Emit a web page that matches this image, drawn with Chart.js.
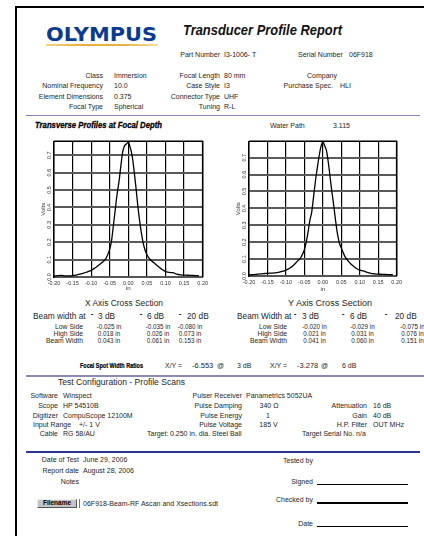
<!DOCTYPE html>
<html><head><meta charset="utf-8">
<script src="https://cdn.jsdelivr.net/npm/chart.js@4.4.1/dist/chart.umd.min.js"></script>
<style>
html,body{margin:0;padding:0;background:#fff;}
body{width:424px;height:536px;position:relative;overflow:hidden;font-family:"Liberation Sans",Arial,sans-serif;color:#262626;}
.t{position:absolute;white-space:nowrap;line-height:1;transform-origin:0 50%;}
.r{position:absolute;}
canvas{position:absolute;}
</style></head><body>
<canvas id="cx" width="171" height="155" style="left:40px;top:137px"></canvas>
<canvas id="cy" width="170" height="156" style="left:235px;top:137px"></canvas>
<script>
// Scan positions across the beam (inches)
const inchPos = [-0.20,-0.19,-0.18,-0.17,-0.16,-0.15,-0.14,-0.13,-0.12,-0.11,-0.10,-0.09,-0.08,-0.07,-0.06,-0.05,
  -0.045,-0.04,-0.035,-0.03,-0.025,-0.02,-0.015,-0.01,-0.005,0,0.005,0.01,0.015,0.02,0.025,0.03,0.035,0.04,0.045,0.05,
  0.06,0.07,0.08,0.09,0.10,0.11,0.12,0.13,0.14,0.15,0.16,0.17,0.18,0.19];
// Echo amplitude (volts), X axis cross section
const xSectionVolts = [0.006,0.008,0.009,0.007,0.007,0.008,0.011,0.016,0.022,0.030,0.038,0.052,0.068,0.085,0.108,0.16,
  0.21,0.30,0.39,0.48,0.55,0.64,0.72,0.755,0.765,0.775,0.745,0.70,0.62,0.525,0.42,0.33,0.255,0.195,0.155,0.128,
  0.098,0.08,0.062,0.045,0.032,0.026,0.025,0.016,0.012,0.011,0.010,0.009,0.008,0.007];
// Echo amplitude (volts), Y axis cross section
const ySectionVolts = [0.006,0.008,0.010,0.012,0.014,0.016,0.017,0.018,0.021,0.027,0.035,0.046,0.062,0.085,0.108,0.155,
  0.2,0.26,0.33,0.38,0.47,0.562,0.64,0.71,0.765,0.795,0.77,0.74,0.67,0.58,0.49,0.41,0.32,0.245,0.195,0.165,
  0.115,0.085,0.064,0.046,0.035,0.03,0.022,0.016,0.013,0.011,0.01,0.009,0.008,0.007];
const inchTicks = [-0.20,-0.15,-0.10,-0.05,0,0.05,0.10,0.15,0.20];
const voltTicks = [0,0.1,0.2,0.3,0.4,0.5,0.6,0.7];
const xVoltMax = 0.78;
const yVoltMax = 0.797;

// Beam width tables
const beamLevels = ['3 dB','6 dB','20 dB'];
const beamRows = ['Low Side','High Side','Beam Width'];
const xBeam = [['-0.025 in','-0.035 in','-0.080 in'],['0.018 in','0.026 in','0.073 in'],['0.043 in','0.061 in','0.153 in']];
const yBeam = [['-0.020 in','-0.029 in','-0.075 in'],['0.021 in','0.031 in','0.076 in'],['0.041 in','0.060 in','0.151 in']];

function txt(s, x, y, o) {
  o = o || {};
  const d = document.createElement('div');
  d.className = 't';
  d.textContent = s;
  d.style.fontSize = (o.s || 7) + 'px';
  if (o.b) d.style.fontWeight = 'bold';
  if (o.i) d.style.fontStyle = 'italic';
  if (o.f) d.style.fontFamily = o.f;
  if (o.c) d.style.color = o.c;
  if (o.st) d.style.webkitTextStroke = o.st;
  document.body.appendChild(d);
  const r = d.getBoundingClientRect();
  const sx = o.w ? o.w / r.width : 1;
  const w = r.width * sx;
  const a = o.a || 'l';
  d.style.left = (a === 'r' ? x - w : a === 'c' ? x - w / 2 : x) + 'px';
  d.style.top = (y - r.height / 2) + 'px';
  if (sx !== 1) d.style.transform = 'scaleX(' + sx + ')';
  return d;
}
function box(x, y, w, h, bg) {
  const d = document.createElement('div');
  d.className = 'r';
  Object.assign(d.style, {left: x + 'px', top: y + 'px', width: w + 'px', height: h + 'px', background: bg});
  document.body.appendChild(d);
  return d;
}

// Page frame
box(15, 6, 2, 530, '#000');
box(15, 6, 409, 2, '#000');

// Header
txt('OLYMPUS', 46, 34.5, {s: 19, b: true, f: '"DejaVu Sans",sans-serif', c: '#0b3b8f', w: 111});
box(46, 44, 112, 2, 'linear-gradient(90deg,#f3d48a,#e6b040 30%,#e6b040 70%,#f5dfa8)');
txt('Transducer Profile Report', 183, 29.5, {s: 14, b: true, i: true, c: '#111', w: 159});

txt('Part Number', 220, 54, {a: 'r'}); txt('I3-1006- T', 224, 54);
txt('Serial Number', 298, 54); txt('06F918', 349, 54);

const rowsY = [75, 85, 96, 106];
['Class','Nominal Frequency','Element Dimensions','Focal Type'].forEach((s, i) => txt(s, 103, rowsY[i], {a: 'r'}));
['Immersion','10.0','0.375','Spherical'].forEach((s, i) => txt(s, 114, rowsY[i]));
['Focal Length','Case Style','Connector Type','Tuning'].forEach((s, i) => txt(s, 220, rowsY[i], {a: 'r'}));
['80 mm','I3','UHF','R-L'].forEach((s, i) => txt(s, 224, rowsY[i]));
txt('Company', 322, 75, {a: 'c'});
txt('Purchase Spec.', 333, 85, {a: 'r'}); txt('HLI', 340, 85);

box(26, 114.5, 394, 1.5, '#8586b8');
txt('Transverse Profiles at Focal Depth', 35, 125.5, {s: 8.5, b: true, i: true, c: '#000', st: '0.3px #000', w: 127});
txt('Water Path', 270, 125); txt('3.115', 333, 125);

// Cross section captions
txt('X Axis Cross Section', 124, 303.5, {s: 8.5, w: 78, a: 'c'});
txt('Y Axis Cross Section', 329.5, 303.5, {s: 8.5, w: 84, a: 'c'});

function beamTable(title, tx, dashX, lvlX, labR, valC, vals) {
  txt(title, tx, 316.5, {s: 8.3});
  beamLevels.forEach((l, i) => {
    txt('-', dashX[i], 314, {s: 8, b: true, a: 'c', c: '#000'});
    txt(l, lvlX[i], 316.5, {s: 8.3});
  });
  const ys = [327.5, 334.5, 341.5];
  beamRows.forEach((r, j) => {
    txt(r, labR, ys[j], {s: 6.8, a: 'r'});
    vals[j].forEach((v, i) => txt(v, valC[i], ys[j], {s: 6.3, a: 'c'}));
  });
}
beamTable('Beam width at', 33, [92, 141, 180], [98, 147, 187], 83, [109, 158, 190], xBeam);
beamTable('Beam Width at', 237, [295, 343, 386], [302, 350, 395], 287, [314.5, 362.5, 412.5], yBeam);

txt('Focal Spot Width Ratios', 80, 365.5, {s: 7, b: true, c: '#000', st: '0.2px #000', w: 63});
txt('X/Y =', 165, 365.5); txt('-6.553', 192, 366, {s: 7.5}); txt('@', 217, 365.5); txt('3 dB', 237, 365.5);
txt('X/Y =', 270, 365.5); txt('-3.278', 297, 366, {s: 7.5}); txt('@', 321, 365.5); txt('6 dB', 342, 365.5);

box(26, 375, 398, 1.5, '#8a8ab5');
txt('Test Configuration - Profile Scans', 58, 382.5, {s: 8.5, w: 127});

const cfgY = [395, 405.5, 415, 424.5, 433.5];
txt('Software', 58, cfgY[0], {a: 'r'}); txt('Winspect', 63, cfgY[0]);
txt('Scope', 58, cfgY[1], {a: 'r'}); txt('HP 54510B', 63, cfgY[1]);
txt('Digitizer', 58, cfgY[2], {a: 'r'}); txt('CompuScope 12100M', 63, cfgY[2]);
txt('Input Range', 33, cfgY[3]); txt('+/-  1  V', 79, cfgY[3]);
txt('Cable', 58, cfgY[4], {a: 'r'}); txt('RG  58/AU', 63, cfgY[4]);
txt('Pulser Receiver', 242, cfgY[0], {a: 'r'}); txt('Panametrics 5052UA', 246, cfgY[0]);
txt('Pulse Damping', 242, cfgY[1], {a: 'r'}); txt('340 \u03A9', 269, cfgY[1], {a: 'c'});
txt('Pulse Energy', 242, cfgY[2], {a: 'r'}); txt('1', 268, cfgY[2], {a: 'c'});
txt('Pulse Voltage', 242, cfgY[3], {a: 'r'}); txt('185 V', 268.5, cfgY[3], {a: 'c'});
txt('Target:', 147, cfgY[4]); txt('0.250 in. dia. Steel Ball', 170, cfgY[4]);
txt('Attenuation', 367, cfgY[1], {a: 'r'}); txt('16 dB', 373, cfgY[1]);
txt('Gain', 367, cfgY[2], {a: 'r'}); txt('40 dB', 373, cfgY[2]);
txt('H.P. Filter', 367, cfgY[3], {a: 'r'}); txt('OUT MHz', 373, cfgY[3]);
txt('Target Serial No. n/a', 302, cfgY[4]);

box(26, 451, 394, 1.5, '#2b3590');
txt('Date of Test', 79, 459, {a: 'r'}); txt('June 29, 2006', 83, 459);
txt('Report date', 79, 470, {a: 'r'}); txt('August 28, 2006', 83, 470);
txt('Notes', 79, 481, {a: 'r'});
const fb = box(37, 499, 40, 9, '#c4c4c4');
fb.style.boxSizing = 'border-box';
fb.style.borderTop = '1px solid #eee'; fb.style.borderLeft = '1px solid #eee';
fb.style.borderBottom = '1px solid #555'; fb.style.borderRight = '1px solid #555';
txt('Filename', 57, 503.5, {s: 6.5, b: true, a: 'c', c: '#000'});
box(78.5, 499, 1, 9, '#777');
txt('06F918-Beam-RF Ascan and Xsections.sdt', 83, 503.5, {w: 135});
txt('Tested by', 313, 460, {a: 'r'});
txt('Signed', 313, 481.5, {a: 'r'}); box(317, 483.5, 91, 1.5, '#000');
txt('Checked by', 313, 499.5, {a: 'r'}); box(317, 502, 91, 1.5, '#000');
txt('Date', 313, 523.5, {a: 'r'}); box(317, 525.5, 91, 1.5, '#000');

// Top and right edges of the plotting frame
const frame = {
  id: 'frame',
  afterDatasetsDraw(chart) {
    const a = chart.chartArea, c = chart.ctx;
    c.save();
    c.strokeStyle = '#000';
    c.lineWidth = 1.5;
    c.beginPath();
    c.moveTo(a.left, a.top); c.lineTo(a.right, a.top); c.lineTo(a.right, a.bottom);
    c.stroke();
    c.restore();
  }
};

Chart.defaults.font.family = '"Liberation Sans", Arial, sans-serif';

function profileChart(id, volts, yMax, xAxisH) {
  const pts = inchPos.map((x, i) => ({x: x, y: volts[i]}));
  return new Chart(document.getElementById(id), {
    type: 'line',
    data: {datasets: [{data: pts, borderColor: '#000', borderWidth: 1.3, pointRadius: 0,
      cubicInterpolationMode: 'monotone', fill: false}]},
    options: {
      responsive: false, animation: false, devicePixelRatio: 1,
      layout: {padding: {top: 4, right: 6, left: 0, bottom: 0}},
      plugins: {legend: {display: false}, tooltip: {enabled: false}},
      scales: {
        x: {type: 'linear', min: -0.2, max: 0.2,
          afterBuildTicks: s => { s.ticks = inchTicks.map(v => ({value: v})); },
          afterFit: s => { s.height = xAxisH; },
          grid: {color: '#000', lineWidth: 1.2, drawTicks: false},
          border: {color: '#555', width: 2},
          ticks: {autoSkip: false, maxRotation: 0, minRotation: 0, padding: 3, color: '#333',
            font: {size: 5.5}, callback: v => v.toFixed(2)},
          title: {display: true, text: 'in', padding: 0, color: '#333', font: {size: 6}}},
        y: {type: 'linear', min: 0, max: yMax,
          afterBuildTicks: s => { s.ticks = voltTicks.map(v => ({value: v})); },
          afterFit: s => { s.width = 14; },
          grid: {color: '#5a5a5a', lineWidth: 2, drawTicks: false},
          border: {color: '#000', width: 1.5},
          ticks: {minRotation: 90, maxRotation: 90, crossAlign: 'center', padding: 1, color: '#333',
            font: {size: 5.5}, callback: v => v.toFixed(1)},
          title: {display: true, text: 'Volts', padding: 0, color: '#333', font: {size: 6}}}
      }
    },
    plugins: [frame]
  });
}
profileChart('cx', xSectionVolts, xVoltMax, 15);
profileChart('cy', ySectionVolts, yVoltMax, 17);
</script>
</body></html>
